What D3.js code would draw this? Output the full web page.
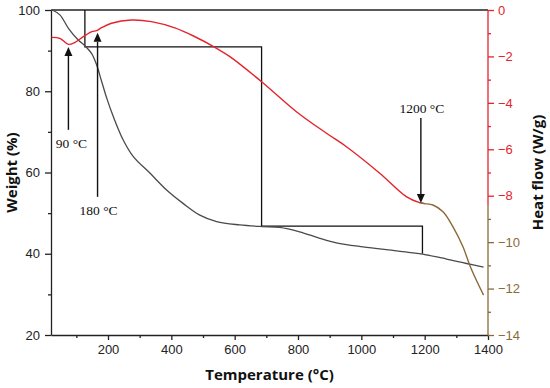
<!DOCTYPE html>
<html><head><meta charset="utf-8">
<script src="https://cdn.jsdelivr.net/npm/d3@7"></script>
<style>body{margin:0;background:#fff}svg{display:block}</style>
</head><body><svg id="c" width="550" height="388"></svg>
<script>
// ---- data ----
const weightT = [24,48,75,106,127,148,164,180,196,217,248,280,333,385,437,490,543,616,686,742,805,869,921,1005,1111,1193,1269,1332,1386];
const weightV = [100,98.8,95.5,92.6,91.2,89.3,86.5,82.4,78.3,73.7,68.0,63.9,59.8,55.7,52.4,49.5,47.9,47.1,46.7,46.5,45.4,43.8,42.7,41.7,40.7,39.9,38.7,37.6,36.7];
const heatT = [22,48,75,96,122,149,164,180,211,274,337,411,470,543,585,685,795,890,953,1058,1142,1184,1200,1226,1258,1289,1321,1342,1363,1386];
const heatV = [-1.18,-1.22,-1.48,-1.39,-1.15,-0.93,-0.89,-0.76,-0.57,-0.43,-0.50,-0.77,-1.12,-1.65,-2.01,-3.09,-4.38,-5.31,-5.89,-7.03,-8.04,-8.30,-8.34,-8.40,-8.69,-9.33,-10.2,-10.98,-11.63,-12.28];
const stepT = [127,127,685,685,1193,1193];
const stepV = [100,90.9,90.9,46.8,46.8,40];
const xTicks = [200,400,600,800,1000,1200,1400];
const xMinor = [100,300,500,700,900,1100,1300];
const wTicks = [20,40,60,80,100];
const wMinor = [30,50,70,90];
const hTicks = [0,-2,-4,-6,-8,-10,-12,-14];
const hMinor = [-1,-3,-5,-7,-9,-11,-13];
const notes = [
  {label:"90 °C", t:75, axis:"w", tip:90.9, tail:70.5, text:66.0, dx:3},
  {label:"180 °C", t:167, axis:"w", tip:94.4, tail:54.0, text:49.6, dx:1},
  {label:"1200 °C", t:1188, axis:"h", tip:-8.31, tail:-4.65, text:-4.44, dx:1}
];

const RED = "#e3242b", BROWN = "#8a6a3a", GRAY = "#4a4a4a";
const svg = d3.select("#c");
const x = d3.scaleLinear().domain([20,1400]).range([51,488]);
const yW = d3.scaleLinear().domain([20,100]).range([335,10]);
const yH = d3.scaleLinear().domain([-14,0]).range([335,10]);
const split = -8.4;

const fontTick = "'Liberation Sans', Arial, sans-serif";
function styleAxis(g, color){
  g.selectAll("text").attr("font-family",fontTick).attr("font-size",13).attr("fill",color||"#222");
  g.selectAll("line,path").attr("stroke",color||"#222").attr("stroke-width",1.3);
}
// x axis
const gx = svg.append("g").attr("transform",`translate(0,${yW(20)})`)
  .call(d3.axisBottom(x).tickValues(xTicks).tickFormat(d3.format("d")).tickSize(5).tickPadding(5).tickSizeOuter(0));
styleAxis(gx);
svg.append("g").attr("transform",`translate(0,${yW(20)})`)
  .call(d3.axisBottom(x).tickValues(xMinor).tickSize(3).tickFormat("")).call(g=>{g.select(".domain").remove();styleAxis(g);});
// left axis
const gl = svg.append("g").attr("transform",`translate(${x(20)},0)`)
  .call(d3.axisLeft(yW).tickValues(wTicks).tickSize(6).tickPadding(5).tickSizeOuter(0));
styleAxis(gl);
svg.append("g").attr("transform",`translate(${x(20)},0)`)
  .call(d3.axisLeft(yW).tickValues(wMinor).tickSize(3).tickFormat("")).call(g=>{g.select(".domain").remove();styleAxis(g);});
// top border
svg.append("line").attr("x1",x(20)).attr("x2",x(1400)).attr("y1",yW(100)).attr("y2",yW(100))
  .attr("stroke","#222").attr("stroke-width",1.3);
// right axis
const gr = svg.append("g").attr("transform",`translate(${x(1400)},0)`)
  .call(d3.axisRight(yH).tickValues(hTicks).tickSize(6).tickPadding(4).tickSizeOuter(0)
  .tickFormat(d=> d<0 ? "\u2212"+Math.abs(d) : d));
gr.select(".domain").remove();
gr.selectAll("text").attr("font-family",fontTick).attr("font-size",13);
gr.selectAll(".tick").each(function(d){
  const c = d>split ? RED : BROWN;
  d3.select(this).select("line").attr("stroke",c).attr("stroke-width",1.3);
  d3.select(this).select("text").attr("fill",c);
});
const grm = svg.append("g").attr("transform",`translate(${x(1400)},0)`)
  .call(d3.axisRight(yH).tickValues(hMinor).tickSize(3).tickFormat(""));
grm.select(".domain").remove();
grm.selectAll(".tick line").attr("stroke",d=>d>split?RED:BROWN).attr("stroke-width",1.3);
svg.append("line").attr("x1",x(1400)).attr("x2",x(1400)).attr("y1",yH(0)).attr("y2",yH(split))
  .attr("stroke",RED).attr("stroke-width",1.3);
svg.append("line").attr("x1",x(1400)).attr("x2",x(1400)).attr("y1",yH(split)).attr("y2",yH(-14)+0.6)
  .attr("stroke",BROWN).attr("stroke-width",1.3);

// axis titles
const fontTitle = "'Open Sans', 'Noto Sans', sans-serif";
svg.append("text").attr("x",(x(20)+x(1400))/2).attr("y",380).attr("text-anchor","middle")
  .attr("font-family",fontTitle).attr("font-weight",700).attr("font-size",15).attr("fill","#111")
  .text("Temperature (°C)");
svg.append("text").attr("transform",`translate(17,${(yW(20)+yW(100))/2}) rotate(-90)`).attr("text-anchor","middle")
  .attr("font-family",fontTitle).attr("font-weight",700).attr("font-size",15).attr("fill","#111")
  .text("Weight (%)");
svg.append("text").attr("transform",`translate(543,${(yW(20)+yW(100))/2}) rotate(-90)`).attr("text-anchor","middle")
  .attr("font-family",fontTitle).attr("font-weight",700).attr("font-size",15).attr("fill","#111")
  .text("Heat flow (W/g)");

// step line
const stepPts = stepT.map((t,i)=>[x(t),yW(stepV[i])]);
svg.append("path").attr("d",d3.line()(stepPts)).attr("fill","none").attr("stroke","#111").attr("stroke-width",1.3);

// weight curve
const wPts = weightT.map((t,i)=>[x(t),yW(weightV[i])]);
svg.append("path").attr("d",d3.line().curve(d3.curveCatmullRom)(wPts))
  .attr("fill","none").attr("stroke",GRAY).attr("stroke-width",1.3);

// heat flow curve (red up to 1200 °C, brown after)
const hPts = heatT.map((t,i)=>({t,v:heatV[i]}));
const hl = d3.line().x(d=>x(d.t)).y(d=>yH(d.v)).curve(d3.curveCatmullRom);
svg.append("path").attr("d",hl(hPts.filter(d=>d.t<=1200))).attr("fill","none").attr("stroke",RED).attr("stroke-width",1.4);
svg.append("path").attr("d",hl(hPts.filter(d=>d.t>=1184))).attr("fill","none").attr("stroke",BROWN).attr("stroke-width",1.4);

// annotations
notes.forEach(n=>{
  const ys = n.axis==="w" ? yW : yH;
  const ax = x(n.t), tipY = ys(n.tip), tailY = ys(n.tail);
  const dir = tailY>tipY ? 1 : -1;
  const ah = 9, aw = 4;
  svg.append("line").attr("x1",ax).attr("x2",ax).attr("y1",tailY).attr("y2",tipY+dir*ah)
    .attr("stroke","#111").attr("stroke-width",1.4);
  svg.append("path").attr("d",`M${ax},${tipY} L${ax-aw},${tipY+dir*ah} L${ax+aw},${tipY+dir*ah} Z`).attr("fill","#111");
  svg.append("text").attr("x",ax+n.dx).attr("y",ys(n.text)).attr("text-anchor","middle")
    .attr("font-family","'Liberation Serif', 'Times New Roman', serif").attr("font-size",13.5).attr("fill","#111")
    .text(n.label);
});
</script></body></html>
